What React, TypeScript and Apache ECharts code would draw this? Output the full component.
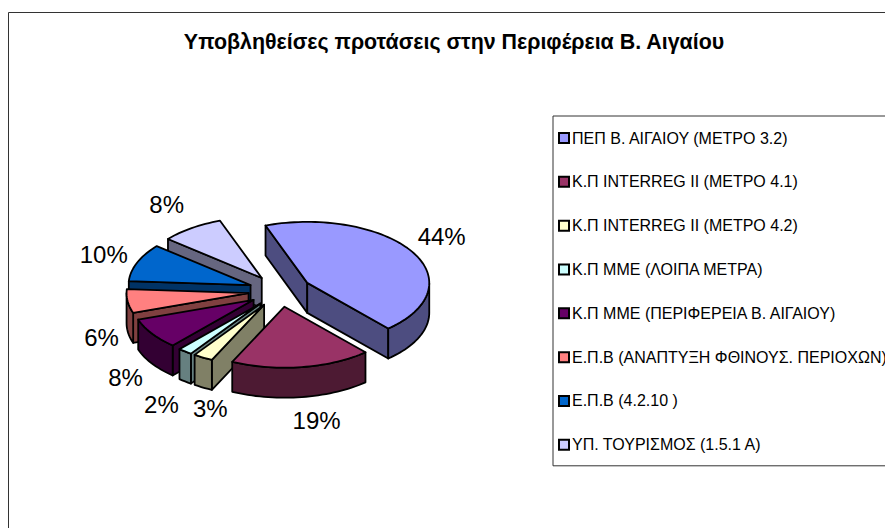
import React, { useEffect, useRef } from "react";
import * as echarts from "echarts";

const TITLE = "Υποβληθείσες προτάσεις στην Περιφέρεια Β. Αιγαίου";
const NAMES = [
  "ΠΕΠ Β. ΑΙΓΑΙΟΥ (ΜΕΤΡΟ 3.2)",
  "Κ.Π INTERREG II (ΜΕΤΡΟ 4.1)",
  "Κ.Π INTERREG II (ΜΕΤΡΟ 4.2)",
  "Κ.Π ΜΜΕ (ΛΟΙΠΑ ΜΕΤΡΑ)",
  "Κ.Π ΜΜΕ (ΠΕΡΙΦΕΡΕΙΑ Β. ΑΙΓΑΙΟΥ)",
  "Ε.Π.Β (ΑΝΑΠΤΥΞΗ ΦΘΙΝΟΥΣ. ΠΕΡΙΟΧΩΝ)",
  "Ε.Π.Β (4.2.10 )",
  "ΥΠ. ΤΟΥΡΙΣΜΟΣ (1.5.1 Α)",
];
const VALUES = [44, 18.6, 2.6, 1.9, 8.2, 6.3, 10, 8.4];
const TOP_COLORS = ["#9999FF", "#993366", "#FFFFCC", "#CCFFFF", "#660066", "#FF8080", "#0066CC", "#CCCCFF"];
const SIDE_COLORS = ["#4D4D80", "#4D1A33", "#808066", "#668080", "#330033", "#804040", "#003366", "#666680"];
// label nudges from the radial anchor (layout, in px)
const LABEL_NUDGE = [[-6, -5], [9, 33], [28, 33], [2, 37], [8, 32], [15, 34], [5, 0], [-1, -7]];

const FONT = "'Liberation Sans', Arial, sans-serif";
const CX = 280, CY = 291, RX = 122, RY = 61, DEPTH = 30, EXPLODE = 0.26, START = -20, LABEL_R = 1.6;
const rad = (d: number) => (d * Math.PI) / 180;
const TOTAL = VALUES.reduce((a, b) => a + b, 0);

const spans = VALUES.map((_, i) => {
  const before = VALUES.slice(0, i).reduce((a, b) => a + b, 0);
  const start = START + (before / TOTAL) * 360;
  const end = start + (VALUES[i] / TOTAL) * 360;
  return { start, end, mid: (start + end) / 2 };
});

function arcPoints(a0: number, a1: number, ox: number, oy: number) {
  const n = Math.max(2, Math.ceil((a1 - a0) / 2));
  const pts: number[][] = [];
  for (let k = 0; k <= n; k++) {
    const a = rad(a0 + ((a1 - a0) * k) / n);
    pts.push([ox + RX * Math.sin(a), oy - RY * Math.cos(a)]);
  }
  return pts;
}

function renderSlice(i: number) {
  return (_params: any, api: any) => {
    const { start, end, mid } = spans[i];
    const m = rad(mid);
    const ox = CX + EXPLODE * RX * Math.sin(m);
    const oy = CY - EXPLODE * RY * Math.cos(m);
    const line = { stroke: "#000", lineWidth: 1.8, lineJoin: "round" };
    const top = arcPoints(start, end, ox, oy);
    const children: any[] = [];
    const wall = (pts: number[][]) =>
      children.push({ type: "polygon", shape: { points: pts }, style: { fill: SIDE_COLORS[i], ...line } });
    const down = (p: number[]) => [p[0], p[1] + DEPTH];
    const first = top[0], last = top[top.length - 1];
    if (Math.sin(rad(start)) < 0) wall([[ox, oy], first, down(first), [ox, oy + DEPTH]]);
    if (Math.sin(rad(end)) > 0) wall([[ox, oy], last, down(last), [ox, oy + DEPTH]]);
    const a0 = Math.max(start, 90), a1 = Math.min(end, 270);
    if (a1 > a0) {
      const front = arcPoints(a0, a1, ox, oy);
      wall([...front, ...front.slice().reverse().map(down)]);
    }
    children.push({
      type: "polygon",
      shape: { points: [[ox, oy], ...top] },
      style: { fill: api.visual("color"), ...line },
    });
    children.push({
      type: "text",
      x: CX + LABEL_R * RX * Math.sin(m) + LABEL_NUDGE[i][0],
      y: CY - LABEL_R * RY * Math.cos(m) + LABEL_NUDGE[i][1],
      style: {
        text: `${Math.round((VALUES[i] / TOTAL) * 100)}%`,
        fontFamily: FONT,
        fontSize: 24,
        fill: "#000",
        align: "center",
        verticalAlign: "middle",
      },
    });
    return { type: "group", children };
  };
}

// painter's order: slices further back are drawn first
const ORDER = VALUES.map((_, i) => i).sort((a, b) => Math.cos(rad(spans[b].mid)) - Math.cos(rad(spans[a].mid)));

export default function App() {
  const ref = useRef<HTMLDivElement>(null);
  useEffect(() => {
    const chart = echarts.init(ref.current!, undefined, { renderer: "svg" });
    chart.setOption({
      animation: false,
      backgroundColor: "#fff",
      title: {
        text: TITLE,
        left: 449,
        top: 26,
        textAlign: "center",
        textStyle: { fontFamily: FONT, fontWeight: "bold", fontSize: 21.4, color: "#000" },
      },
      legend: {
        orient: "vertical",
        left: 553,
        top: 116,
        padding: [14, 8, 13, 5],
        data: NAMES,
        icon: "rect",
        itemWidth: 10,
        itemHeight: 10,
        itemGap: 27.83,
        borderColor: "#333",
        borderWidth: 1,
        backgroundColor: "#fff",
        selectedMode: false,
        itemStyle: { borderColor: "#000", borderWidth: 2 },
        textStyle: { fontFamily: FONT, fontSize: 16, lineHeight: 10, color: "#000", padding: [0, 0, 0, -2] },
      },
      graphic: [
        {
          type: "polyline",
          silent: true,
          shape: { points: [[8.5, 528], [8.5, 12.5], [885, 12.5]] },
          style: { stroke: "#333", lineWidth: 1, fill: "none" },
        },
      ],
      series: ORDER.map((i, rank) => ({
        type: "custom",
        name: NAMES[i],
        coordinateSystem: "none",
        silent: true,
        clip: false,
        z: 2 + rank,
        itemStyle: { color: TOP_COLORS[i] },
        data: [[VALUES[i]]],
        renderItem: renderSlice(i),
      })),
    });
    return () => chart.dispose();
  }, []);
  return <div ref={ref} style={{ position: "absolute", left: 0, top: 0, width: 885, height: 528, overflow: "hidden" }} />;
}
